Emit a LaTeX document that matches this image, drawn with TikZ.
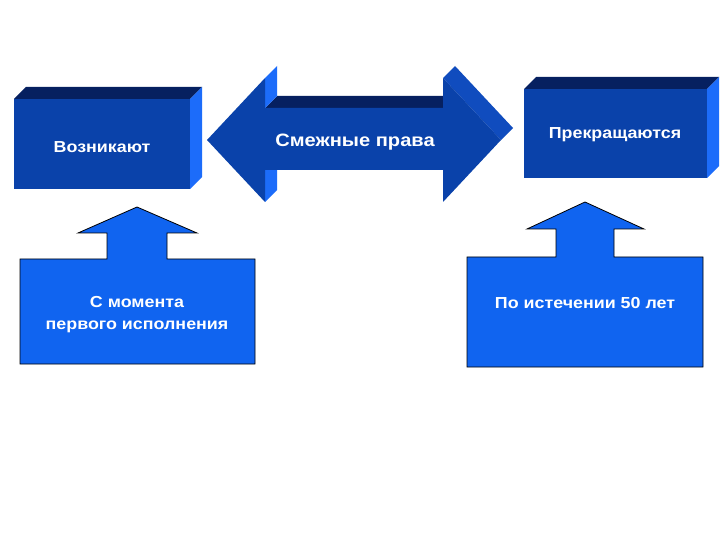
\documentclass[tikz,border=0pt]{standalone}
\usepackage{fontspec}
\setmainfont{Liberation Sans}
\newfontfamily\widesans[FakeStretch=1.12]{Liberation Sans}
\definecolor{frontc}{RGB}{10,66,170}
\definecolor{topc}{RGB}{6,32,96}
\definecolor{sidec}{RGB}{28,108,250}
\definecolor{headc}{RGB}{16,76,190}
\definecolor{callc}{RGB}{16,100,240}
\tikzset{
  lbl/.style={text=white,font=\widesans\bfseries\fontsize{16}{22}\selectfont,align=center,inner sep=0pt},
  biglbl/.style={text=white,font=\widesans\bfseries\fontsize{18}{22}\selectfont,align=center,inner sep=0pt},
  callout/.style={fill=callc,draw=black,line width=0.8bp,line join=miter}
}
\begin{document}
\begin{tikzpicture}[x=1bp,y=-1bp]
\useasboundingbox (0,0) rectangle (720,540);
\fill[white] (0,0) rectangle (720,540);

% left 3D box
\fill[topc] (14,99) -- (26,87) -- (202,87) -- (190,99) -- cycle;
\fill[sidec] (190,99) -- (202,87) -- (202,177) -- (190,189) -- cycle;
\fill[frontc] (14,99) rectangle (190,189);
\node[lbl] (voz) at (102,147) {Возникают};

% right 3D box
\fill[topc] (524,89) -- (536,77) -- (719,77) -- (707,89) -- cycle;
\fill[sidec] (707,89) -- (719,77) -- (719,166) -- (707,178) -- cycle;
\fill[frontc] (524,89) rectangle (707,178);
\node[lbl] (prek) at (615,135) {Прекращаются};

% double arrow
\fill[topc] (265,108) -- (443,108) -- (455,96) -- (277,96) -- cycle;
\fill[sidec] (265,78) -- (277,66) -- (277,96) -- (265,108) -- cycle;
\fill[sidec] (265,170) -- (277,158) -- (277,190) -- (265,202) -- cycle;
\fill[headc] (443,78) -- (455,66) -- (513,128) -- (501,140) -- cycle;
\fill[frontc] (207,140) -- (265,78) -- (265,108) -- (443,108) -- (443,78) -- (501,140)
  -- (443,202) -- (443,170) -- (265,170) -- (265,202) -- cycle;
\node[biglbl] (smezh) at (355,142) {Смежные права};

% left callout
\draw[callout] (20,259) -- (107,259) -- (107,233) -- (78,233) -- (137,207) -- (197,233)
  -- (167,233) -- (167,259) -- (255,259) -- (255,364) -- (20,364) -- cycle;
\node[lbl] (lc) at (137,315) {С момента\\первого исполнения};

% right callout
\draw[callout] (467,257) -- (556,257) -- (556,229) -- (527,229) -- (585,202) -- (644,229)
  -- (614,229) -- (614,257) -- (703,257) -- (703,367) -- (467,367) -- cycle;
\node[lbl] (rc) at (585,303) {По истечении 50 лет};
\end{tikzpicture}
\end{document}
